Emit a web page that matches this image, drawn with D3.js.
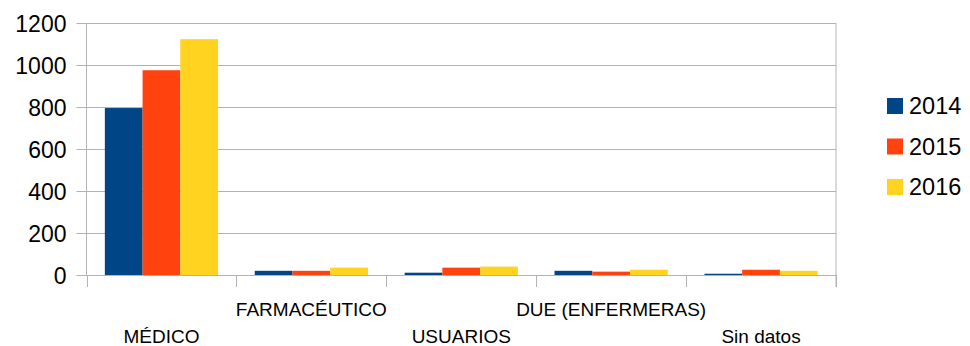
<!DOCTYPE html>
<html><head><meta charset="utf-8">
<script src="https://cdn.jsdelivr.net/npm/d3@7"></script>
<style>body{margin:0;background:#fff}svg{display:block;font-family:"Liberation Sans",Arial,sans-serif}</style>
</head><body><svg id="c" width="970" height="346"></svg>
<script>
const categories = ["MÉDICO","FARMACÉUTICO","USUARIOS","DUE (ENFERMERAS)","Sin datos"];
const seriesNames = ["2014","2015","2016"];
const v2014 = [795, 20, 11, 20, 6];
const v2015 = [975, 20, 35, 16, 25];
const v2016 = [1123, 35, 40, 25, 20];
const yTicks = [0,200,400,600,800,1000,1200];
const colors = ["#004586","#ff420e","#ffd320"];

const series = [v2014, v2015, v2016];
const svg = d3.select("#c");
const L = 86.5, R = 836, T = 23, B = 275;
const x = d3.scaleBand().domain(categories).range([L, R]).paddingInner(0).paddingOuter(0);
const inner = d3.scaleBand().domain(seriesNames).range([0, x.bandwidth()]).paddingInner(0).paddingOuter(0.486);
const y = d3.scaleLinear().domain([0,1200]).range([B, T]);

// gridlines
const yAxis = d3.axisLeft(y).tickValues(yTicks).tickSize(R - L + 10).tickSizeOuter(0).tickFormat(d => d);
const gy = svg.append("g").attr("transform", `translate(${R},0)`).call(yAxis);
gy.select(".domain").remove();
gy.selectAll(".tick line").attr("stroke", "#b3b3b3").attr("stroke-width", 1);
gy.selectAll(".tick text").attr("x", -(R - L) - 20).attr("font-size", 23).attr("fill", "#000")
  .attr("text-anchor", "end").attr("dy", "0.36em").style("font-family", "'Liberation Sans',Arial,sans-serif");

// vertical borders
svg.append("line").attr("x1", L).attr("x2", L).attr("y1", T).attr("y2", B).attr("stroke", "#b3b3b3");
svg.append("line").attr("x1", R).attr("x2", R).attr("y1", T).attr("y2", B + 12).attr("stroke", "#b3b3b3");

// bars
categories.forEach((c, i) => {
  series.forEach((s, j) => {
    svg.append("rect")
      .attr("x", x(c) + inner(seriesNames[j]))
      .attr("width", inner.bandwidth())
      .attr("y", y(s[i]))
      .attr("height", y(0) - y(s[i]))
      .attr("fill", colors[j]);
  });
});

// x axis
const boundaries = categories.map(c => x(c)).concat([R]);
svg.append("line").attr("x1", L).attr("x2", R).attr("y1", B + 0.5).attr("y2", B + 0.5).attr("stroke", "#b3b3b3");
boundaries.forEach(b => {
  svg.append("line").attr("x1", Math.round(b) + 0.5).attr("x2", Math.round(b) + 0.5)
    .attr("y1", B).attr("y2", B + 12).attr("stroke", "#b3b3b3");
});
categories.forEach((c, i) => {
  svg.append("text").attr("x", x(c) + x.bandwidth() / 2).attr("y", i % 2 === 0 ? 343 : 316)
    .attr("text-anchor", "middle").attr("font-size", 19).attr("fill", "#000").text(c);
});

// legend
seriesNames.forEach((n, j) => {
  const cy = 106 + j * 40.5;
  svg.append("rect").attr("x", 887).attr("y", cy - 8).attr("width", 16).attr("height", 16).attr("fill", colors[j]);
  svg.append("text").attr("x", 909).attr("y", cy).attr("dy", "0.36em").attr("font-size", 23.5).attr("fill", "#000").text(n);
});
</script></body></html>
